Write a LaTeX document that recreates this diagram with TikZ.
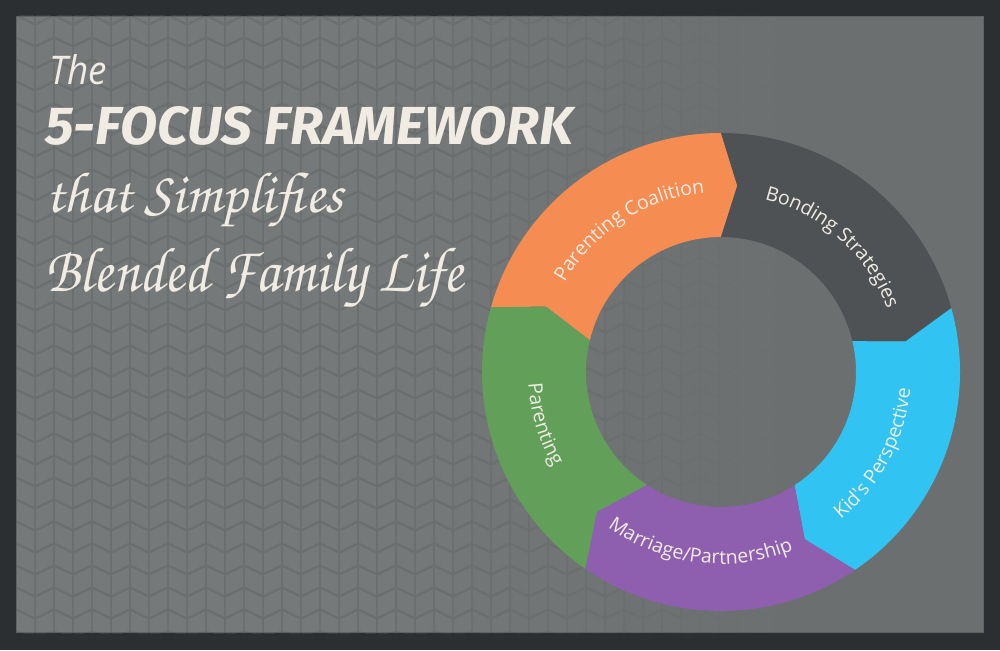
\documentclass[tikz,border=0pt]{standalone}
\usepackage{fontspec}
\usepackage{graphicx}
\setmainfont{Open Sans}
\newfontfamily\labelfont{Open Sans}
\newfontfamily\titlefont{Fira Sans}
\newcommand\chancery{\fontencoding{OT1}\fontfamily{pzc}\fontseries{mb}\fontshape{it}\selectfont}
\usetikzlibrary{decorations.text}
\definecolor{frameC}{HTML}{2B2F32}
\definecolor{bgC}{HTML}{6B6F70}
\definecolor{edgeC}{HTML}{5E6264}
\definecolor{creamC}{HTML}{F0ECE4}
\definecolor{orangeC}{HTML}{F58C51}
\definecolor{darkC}{HTML}{4E5255}
\definecolor{blueC}{HTML}{31C4F2}
\definecolor{purpleC}{HTML}{8E5FAE}
\definecolor{greenC}{HTML}{62A05A}
\tikzset{
  titletext/.style={anchor=base west, inner sep=0pt, text=creamC},
  seg/.style={shift={(721,278)}},
  ringlabel/.style={shift={(721,278)}, decorate, decoration={text along path, text align=center, text color=creamC, text={|\labelfont\fontsize{19.5}{20}\selectfont|#1}}}
}
\begin{document}
\begin{tikzpicture}[x=1pt,y=1pt]
\useasboundingbox (0,0) rectangle (1000,650);
% frame and background
\fill[frameC] (0,0) rectangle (1000,650);
\fill[bgC] (16,17) rectangle (984,634);
% chevron pattern
\begin{scope}
\clip (16,17) rectangle (984,634);
\foreach \k in {0,...,41} {
  \pgfmathsetmacro\xa{16+19*\k}
  \pgfmathsetmacro\xb{\xa+19}
  \pgfmathsetmacro\oa{mod(\k,2)==0 ? 0 : 8}
  \pgfmathsetmacro\ob{8-\oa}
  \pgfmathsetmacro\al{max(0, min(0.075, 0.075*(800-\xa)/450))}
  \foreach \j in {-1,...,28} {
    \pgfmathsetmacro\ya{650-(16+22*\j)}
    \fill[white, fill opacity=\al] (\xa+1.2, \ya-\oa-1.5) -- (\xb-1.2, \ya-\ob-1.5) -- (\xb-1.2, \ya-\ob-20.5) -- (\xa+1.2, \ya-\oa-20.5) -- cycle;
  }
}
\end{scope}
\draw[edgeC, line width=1pt] (16.5,17.5) rectangle (983.5,633.5);
% title
\node[titletext] (the) at (49,565) {\resizebox{58pt}{30pt}{\labelfont\itshape The}};
\node[titletext] (focus) at (45,505) {\resizebox{528pt}{38pt}{\titlefont\bfseries\itshape 5-FOCUS FRAMEWORK}};
\node[titletext] (simpl) at (45,437) {\resizebox{298pt}{41pt}{\chancery that Simplifies}};
\node[titletext] (blend) at (45,358) {\resizebox{418pt}{45pt}{\chancery Blended Family Life}};
% ring segments
\fill[seg, orangeC] (164.3:239) arc[start angle=164.3, end angle=90, radius=239] -- (85:187) -- (90:135) arc[start angle=90, end angle=166.4, radius=135] -- (159.5:187) -- cycle;
\fill[seg, darkC] (90:239) arc[start angle=90, end angle=15.5, radius=239] -- (9.4:187) -- (13.2:135) arc[start angle=13.2, end angle=90, radius=135] -- (85:187) -- cycle;
\fill[seg, blueC] (15.5:239) arc[start angle=15.5, end angle=-55.9, radius=239] -- (-63.4:187) -- (-57:135) arc[start angle=-57, end angle=13.2, radius=135] -- (9.4:187) -- cycle;
\fill[seg, purpleC] (-55.9:239) arc[start angle=-55.9, end angle=-124.6, radius=239] -- (-131.6:187) -- (-123.3:135) arc[start angle=-123.3, end angle=-57, radius=135] -- (-63.4:187) -- cycle;
\fill[seg, greenC] (-124.6:239) arc[start angle=-124.6, end angle=-195.7, radius=239] -- (-200.5:187) -- (-193.6:135) arc[start angle=-193.6, end angle=-123.3, radius=135] -- (-131.6:187) -- cycle;
% ring labels
\path[ringlabel={Parenting Coalition}] (172.75:180) arc[start angle=172.75, end angle=72.75, radius=180];
\path[ringlabel={Bonding Strategies}] (98.3:178) arc[start angle=98.3, end angle=-1.7, radius=178];
\path[ringlabel={Kid's Perspective}] (-78:190) arc[start angle=-78, end angle=22, radius=190];
\path[ringlabel={Marriage/Partnership}] (-147:192) arc[start angle=-147, end angle=-47, radius=192];
\path[ringlabel={Parenting}] (146.5:193) arc[start angle=146.5, end angle=246.5, radius=193];
\end{tikzpicture}
\end{document}
